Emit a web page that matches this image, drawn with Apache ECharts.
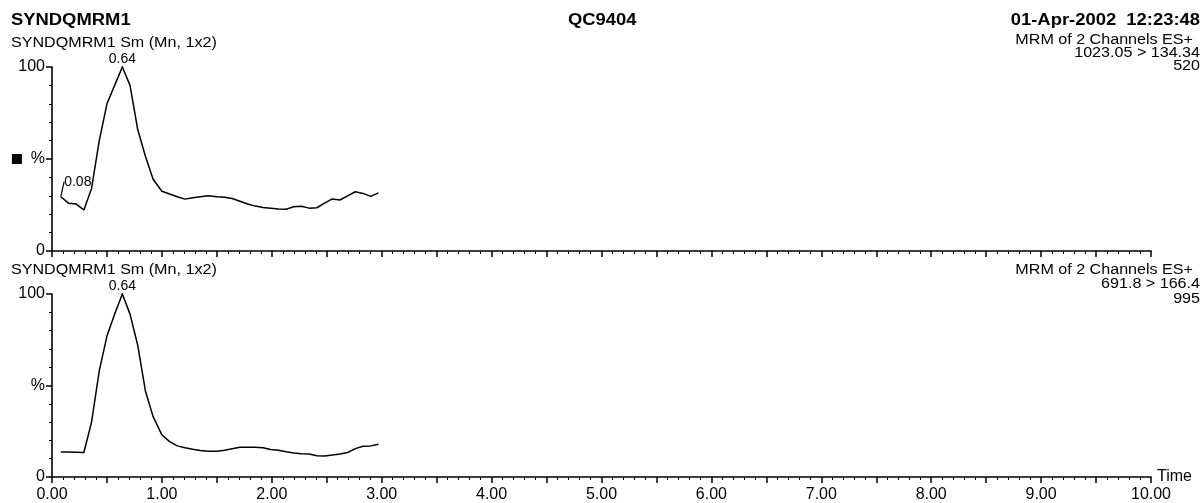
<!DOCTYPE html>
<html>
<head>
<meta charset="utf-8">
<script src="https://cdn.jsdelivr.net/npm/echarts@6/dist/echarts.min.js"></script>
<style>
html,body{margin:0;padding:0;background:#fff;}
#chart{width:1201px;height:503px;}
</style>
</head>
<body>
<div id="chart"></div>
<script>
// ---- data ----
const topTimes = [0.08,0.15,0.22,0.29,0.36,0.43,0.50,0.57,0.64,0.71,0.78,0.85,0.92,1.00,1.07,1.14,1.21,1.28,1.35,1.42,1.50,1.57,1.64,1.71,1.78,1.85,1.92,1.99,2.06,2.13,2.20,2.27,2.34,2.41,2.48,2.55,2.62,2.69,2.76,2.83,2.90,2.97];
const topValues = [29.5,26,25.5,22.3,34,60,80,90,100,90,66,51.5,39,32.5,31,29.5,28.2,29,29.5,30,29.5,29.2,28.5,27,25.5,24.4,23.6,23.2,22.8,22.7,24,24.3,23.3,23.5,26,28.3,27.7,30,32.2,31.3,29.7,31.6];
const bottomTimes = [0.08,0.15,0.22,0.29,0.36,0.43,0.50,0.57,0.64,0.71,0.78,0.85,0.92,1.00,1.07,1.14,1.21,1.28,1.35,1.42,1.50,1.57,1.64,1.71,1.78,1.85,1.92,1.99,2.06,2.13,2.20,2.27,2.34,2.41,2.48,2.55,2.62,2.69,2.76,2.83,2.90,2.97];
const bottomValues = [13.7,13.6,13.5,13.4,30,58,77,89,100,89,72,47,33,23,19.3,17,16,15.2,14.5,14.1,14.1,14.6,15.4,16.2,16.2,16.2,16,15,14.6,13.8,13.1,12.7,12.6,11.6,11.5,12,12.6,13.4,15.5,16.8,17,17.9];
const topLabelIdx = [0, 8];      // annotated points (0.08, 0.64)
const bottomLabelIdx = [8];       // annotated point (0.64)
const headerLeft = "SYNDQMRM1";
const headerCenter = "QC9404";
const headerRight = "01-Apr-2002  12:23:48";
const traceTitle = "SYNDQMRM1 Sm (Mn, 1x2)";
const topInfo = ["MRM of 2 Channels ES+", "1023.05 > 134.34", "520"];
const bottomInfo = ["MRM of 2 Channels ES+", "691.8 > 166.4", "995"];
const xMin = 0, xMax = 10;
const yTicks = [0, 50, 100];

// ---- chart ----
const FONT = "'Liberation Sans', Arial, sans-serif";
const SX = 1.15; // printed text is horizontally stretched
const chart = echarts.init(document.getElementById('chart'), null, {renderer: 'canvas'});

function mkData(times, vals, labelIdx) {
  return times.map((t, i) => {
    const item = {value: [t, vals[i]]};
    if (labelIdx.includes(i)) item.label = {show: true};
    return item;
  });
}

function gtext(text, x, y, size, bold, align) {
  return {
    type: 'text', x: x, y: y, scaleX: SX, silent: true,
    style: {
      text: text, fill: '#000', fontFamily: FONT, fontSize: size,
      fontWeight: bold ? 'bold' : 'normal',
      textAlign: align || 'left', textVerticalAlign: 'middle',
      align: align || 'left', verticalAlign: 'middle'
    }
  };
}

const axisCommon = {
  axisLine: {show: true, lineStyle: {color: '#000', width: 1.6}},
  splitLine: {show: false},
};

function xAxis(gridIndex, showLabels) {
  return Object.assign({}, axisCommon, {
    type: 'value', gridIndex: gridIndex, min: xMin, max: xMax, interval: 0.5,
    axisTick: {show: true, inside: false, length: 6, lineStyle: {color: '#000', width: 1.5}},
    minorTick: {show: true, splitNumber: 5, length: 3, lineStyle: {color: '#000', width: 1}},
    axisLabel: {
      show: showLabels, margin: 10, color: '#000', fontFamily: FONT, fontSize: 16,
      formatter: v => (Math.abs(v - Math.round(v)) < 1e-6 ? v.toFixed(2) : '')
    },
    name: showLabels ? 'Time' : '',
    nameLocation: 'end', nameGap: 6,
    nameTextStyle: {color: '#000', fontFamily: FONT, fontSize: 16}
  });
}

function yAxis(gridIndex, withSquare) {
  return Object.assign({}, axisCommon, {
    type: 'value', gridIndex: gridIndex, min: 0, max: 100, interval: 50,
    axisTick: {show: true, inside: false, length: 6, lineStyle: {color: '#000', width: 1.5}},
    minorTick: {show: true, splitNumber: 5, length: 3, lineStyle: {color: '#000', width: 1}},
    axisLabel: {
      margin: 7, color: '#000', fontFamily: FONT, fontSize: 16,
      formatter: v => {
        if (v === yTicks[1]) return withSquare ? '{sq|}  %' : '%';
        return String(v);
      },
      rich: {sq: {width: 10, height: 10, backgroundColor: '#000'}}
    }
  });
}

const lineSeries = (xi, data) => ({
  type: 'line', xAxisIndex: xi, yAxisIndex: xi,
  data: data, showSymbol: true, symbol: 'circle', symbolSize: 0.01, smooth: false, silent: true,
  itemStyle: {color: '#000'},
  lineStyle: {color: '#000', width: 1.5},
  label: {
    show: false, position: 'top', distance: 1, color: '#000', fontFamily: FONT, fontSize: 14,
    formatter: p => p.value[0].toFixed(2)
  },
  labelLine: {show: true, lineStyle: {color: '#000', width: 1.2}},
  labelLayout: p => (p.dataIndex === 0 ? {dx: 17, dy: -7} : {}),
  animation: false
});

chart.setOption({
  animation: false,
  backgroundColor: '#fff',
  graphic: [
    gtext(headerLeft, 11, 21, 16, true),
    gtext(headerCenter, 568, 21, 16, true),
    gtext(headerRight, 1200, 21, 16, true, 'right'),
    gtext(traceTitle, 11, 43.5, 14, false),
    gtext(topInfo[0], 1193, 40, 14, false, 'right'),
    gtext(topInfo[1], 1200, 53, 14, false, 'right'),
    gtext(topInfo[2], 1200, 66, 14, false, 'right'),
    gtext(traceTitle, 11, 270, 14, false),
    gtext(bottomInfo[0], 1193, 270, 14, false, 'right'),
    gtext(bottomInfo[1], 1200, 284.5, 14, false, 'right'),
    gtext(bottomInfo[2], 1200, 299, 14, false, 'right')
  ],
  grid: [
    {left: 52, right: 50, top: 67, height: 184},
    {left: 52, right: 50, top: 294, height: 185}
  ],
  xAxis: [xAxis(0, false), xAxis(1, true)],
  yAxis: [yAxis(0, true), yAxis(1, false)],
  series: [
    lineSeries(0, mkData(topTimes, topValues, topLabelIdx)),
    lineSeries(1, mkData(bottomTimes, bottomValues, bottomLabelIdx))
  ]
});
</script>
</body>
</html>
